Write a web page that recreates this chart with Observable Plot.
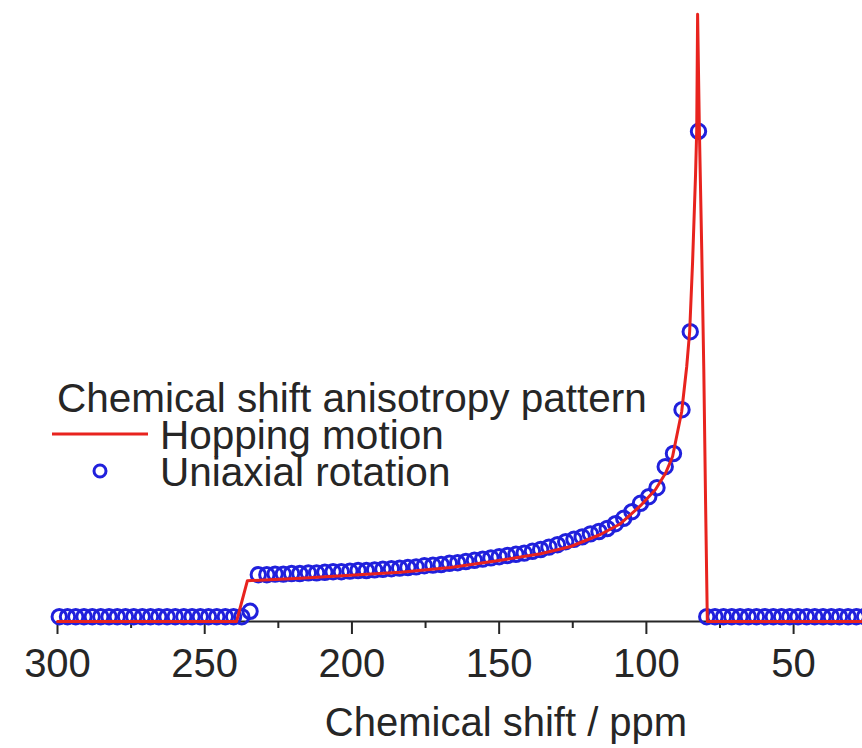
<!DOCTYPE html>
<html>
<head>
<meta charset="utf-8">
<script src="https://cdn.jsdelivr.net/npm/d3@7"></script>
<script src="https://cdn.jsdelivr.net/npm/@observablehq/plot@0.6"></script>
<style>
  html, body { margin: 0; padding: 0; background: #fff; }
  #wrap { position: relative; width: 862px; height: 748px; overflow: hidden; font-family: "Liberation Sans", Arial, sans-serif; color: #262626; }
  #legend { position: absolute; left: 0; top: 0; font-size: 40.5px; line-height: 36px; }
  #legend div { position: absolute; white-space: nowrap; height: 36px; }
  #legend svg { position: absolute; overflow: visible; }
</style>
</head>
<body>
<div id="wrap"></div>
<script>
// ---- data ----
// Hopping motion (red line): chemical shift (ppm) and normalised intensity
const hopShift = [300, 239.2, 235.5, 217.5, 200.5, 183.5, 166.5, 149.5, 135.9, 125.7, 115.6, 108.8, 102.0, 96.9, 93.5, 91.1, 88.0, 86.3, 85.3, 84.3, 83.3, 82.9, 82.6, 82.0, 81.2, 80.5, 79.9, 79.3, 26.6];
const hopValue = [0, 0, 0.068, 0.072, 0.077, 0.082, 0.090, 0.102, 0.113, 0.125, 0.145, 0.163, 0.193, 0.220, 0.247, 0.275, 0.350, 0.425, 0.483, 0.600, 0.745, 0.820, 1.012, 0.820, 0.620, 0.420, 0.200, 0, 0];

// Uniaxial rotation (blue circles)
const uniShift = [
  299.4, 296.6, 293.8, 291.0, 288.2, 285.3, 282.5, 279.7, 276.9, 274.1,
  271.2, 268.4, 265.6, 262.8, 260.0, 257.1, 254.3, 251.5, 248.7, 245.9,
  243.0, 240.2, 237.4, 234.6, 231.8, 228.9, 226.1, 223.3, 220.5, 217.7,
  214.8, 212.0, 209.2, 206.4, 203.6, 200.7, 197.9, 195.1, 192.3, 189.5,
  186.6, 183.8, 181.0, 178.2, 175.4, 172.5, 169.7, 166.9, 164.1, 161.3,
  158.4, 155.6, 152.8, 150.0, 147.2, 144.3, 141.5, 138.7, 135.9, 133.1,
  130.2, 127.4, 124.6, 121.8, 119.0, 116.1, 113.3, 110.5, 107.7, 104.9,
  102.0, 99.2, 96.4, 93.6, 90.8, 87.9, 85.1, 82.3, 79.5, 76.7,
  73.8, 71.0, 68.2, 65.4, 62.6, 59.7, 56.9, 54.1, 51.3, 48.5,
  45.6, 42.8, 40.0, 37.2, 34.4, 31.5, 28.7, 25.9
];
const uniValue = [
  0.008, 0.008, 0.008, 0.008, 0.008, 0.008, 0.008, 0.008, 0.008, 0.008,
  0.008, 0.008, 0.008, 0.008, 0.008, 0.008, 0.008, 0.008, 0.008, 0.008,
  0.008, 0.008, 0.008, 0.017, 0.078, 0.078, 0.079, 0.079, 0.080, 0.080,
  0.081, 0.081, 0.082, 0.083, 0.083, 0.084, 0.085, 0.085, 0.086, 0.087,
  0.088, 0.089, 0.090, 0.091, 0.093, 0.094, 0.095, 0.097, 0.098, 0.100,
  0.102, 0.104, 0.106, 0.108, 0.110, 0.112, 0.114, 0.117, 0.120, 0.124,
  0.128, 0.133, 0.137, 0.141, 0.146, 0.150, 0.155, 0.163, 0.172, 0.183,
  0.197, 0.208, 0.223, 0.258, 0.280, 0.353, 0.483, 0.817, 0.008, 0.008,
  0.008, 0.008, 0.008, 0.008, 0.008, 0.008, 0.008, 0.008, 0.008, 0.008,
  0.008, 0.008, 0.008, 0.008, 0.008, 0.008, 0.008, 0.008
];

const majorTicks = [300, 250, 200, 150, 100, 50];
const minorTicks = [275, 225, 175, 125, 75];
const xLabel = "Chemical shift / ppm";
const legendTitle = "Chemical shift anisotropy pattern";
const seriesNames = ["Hopping motion", "Uniaxial rotation"];
const red = "#e8231e";
const blue = "#2020dc";
const ink = "#262626";

const hop = hopShift.map((s, i) => ({shift: s, value: hopValue[i]}));
const uni = uniShift.map((s, i) => ({shift: s, value: uniValue[i]}));

const chart = Plot.plot({
  width: 862,
  height: 748,
  marginLeft: 57,
  marginRight: 0,
  marginTop: 21,
  marginBottom: 127,
  style: {fontFamily: "'Liberation Sans', Arial, sans-serif", color: ink, background: "transparent", overflow: "visible"},
  x: {domain: [300, 26.6], label: null},
  y: {domain: [0, 1], axis: null},
  marks: [
    Plot.axisX(minorTicks, {tickSize: 7, tickFormat: () => "", strokeWidth: 2, stroke: ink, label: null}),
    Plot.axisX(majorTicks, {tickSize: 13, tickPadding: 14, strokeWidth: 2, stroke: ink, fontSize: 40, fill: ink, label: null}),
    Plot.ruleY([0], {stroke: ink, strokeWidth: 2}),
    Plot.dot(uni, {x: "shift", y: "value", r: 7.2, stroke: blue, strokeWidth: 3, fill: "none"}),
    Plot.line(hop, {x: "shift", y: "value", stroke: red, strokeWidth: 3, strokeLinejoin: "round"}),
    Plot.text([xLabel], {text: d => d, frameAnchor: "bottom", dx: 46, dy: 86, lineAnchor: "top", fontSize: 40, fill: ink})
  ]
});

const wrap = document.getElementById("wrap");
wrap.appendChild(chart);

// legend overlay
const legend = document.createElement("div");
legend.id = "legend";
legend.innerHTML = `
  <div style="left:57px; top:380px;">${legendTitle}</div>
  <svg style="left:0; top:0;" width="1" height="1">
    <line x1="52" x2="148" y1="434" y2="434" stroke="${red}" stroke-width="3.2"/>
    <circle cx="100" cy="471" r="6" fill="none" stroke="${blue}" stroke-width="3"/>
  </svg>
  <div style="left:160px; top:417px;">${seriesNames[0]}</div>
  <div style="left:160px; top:454px;">${seriesNames[1]}</div>
`;
wrap.appendChild(legend);
</script>
</body>
</html>
